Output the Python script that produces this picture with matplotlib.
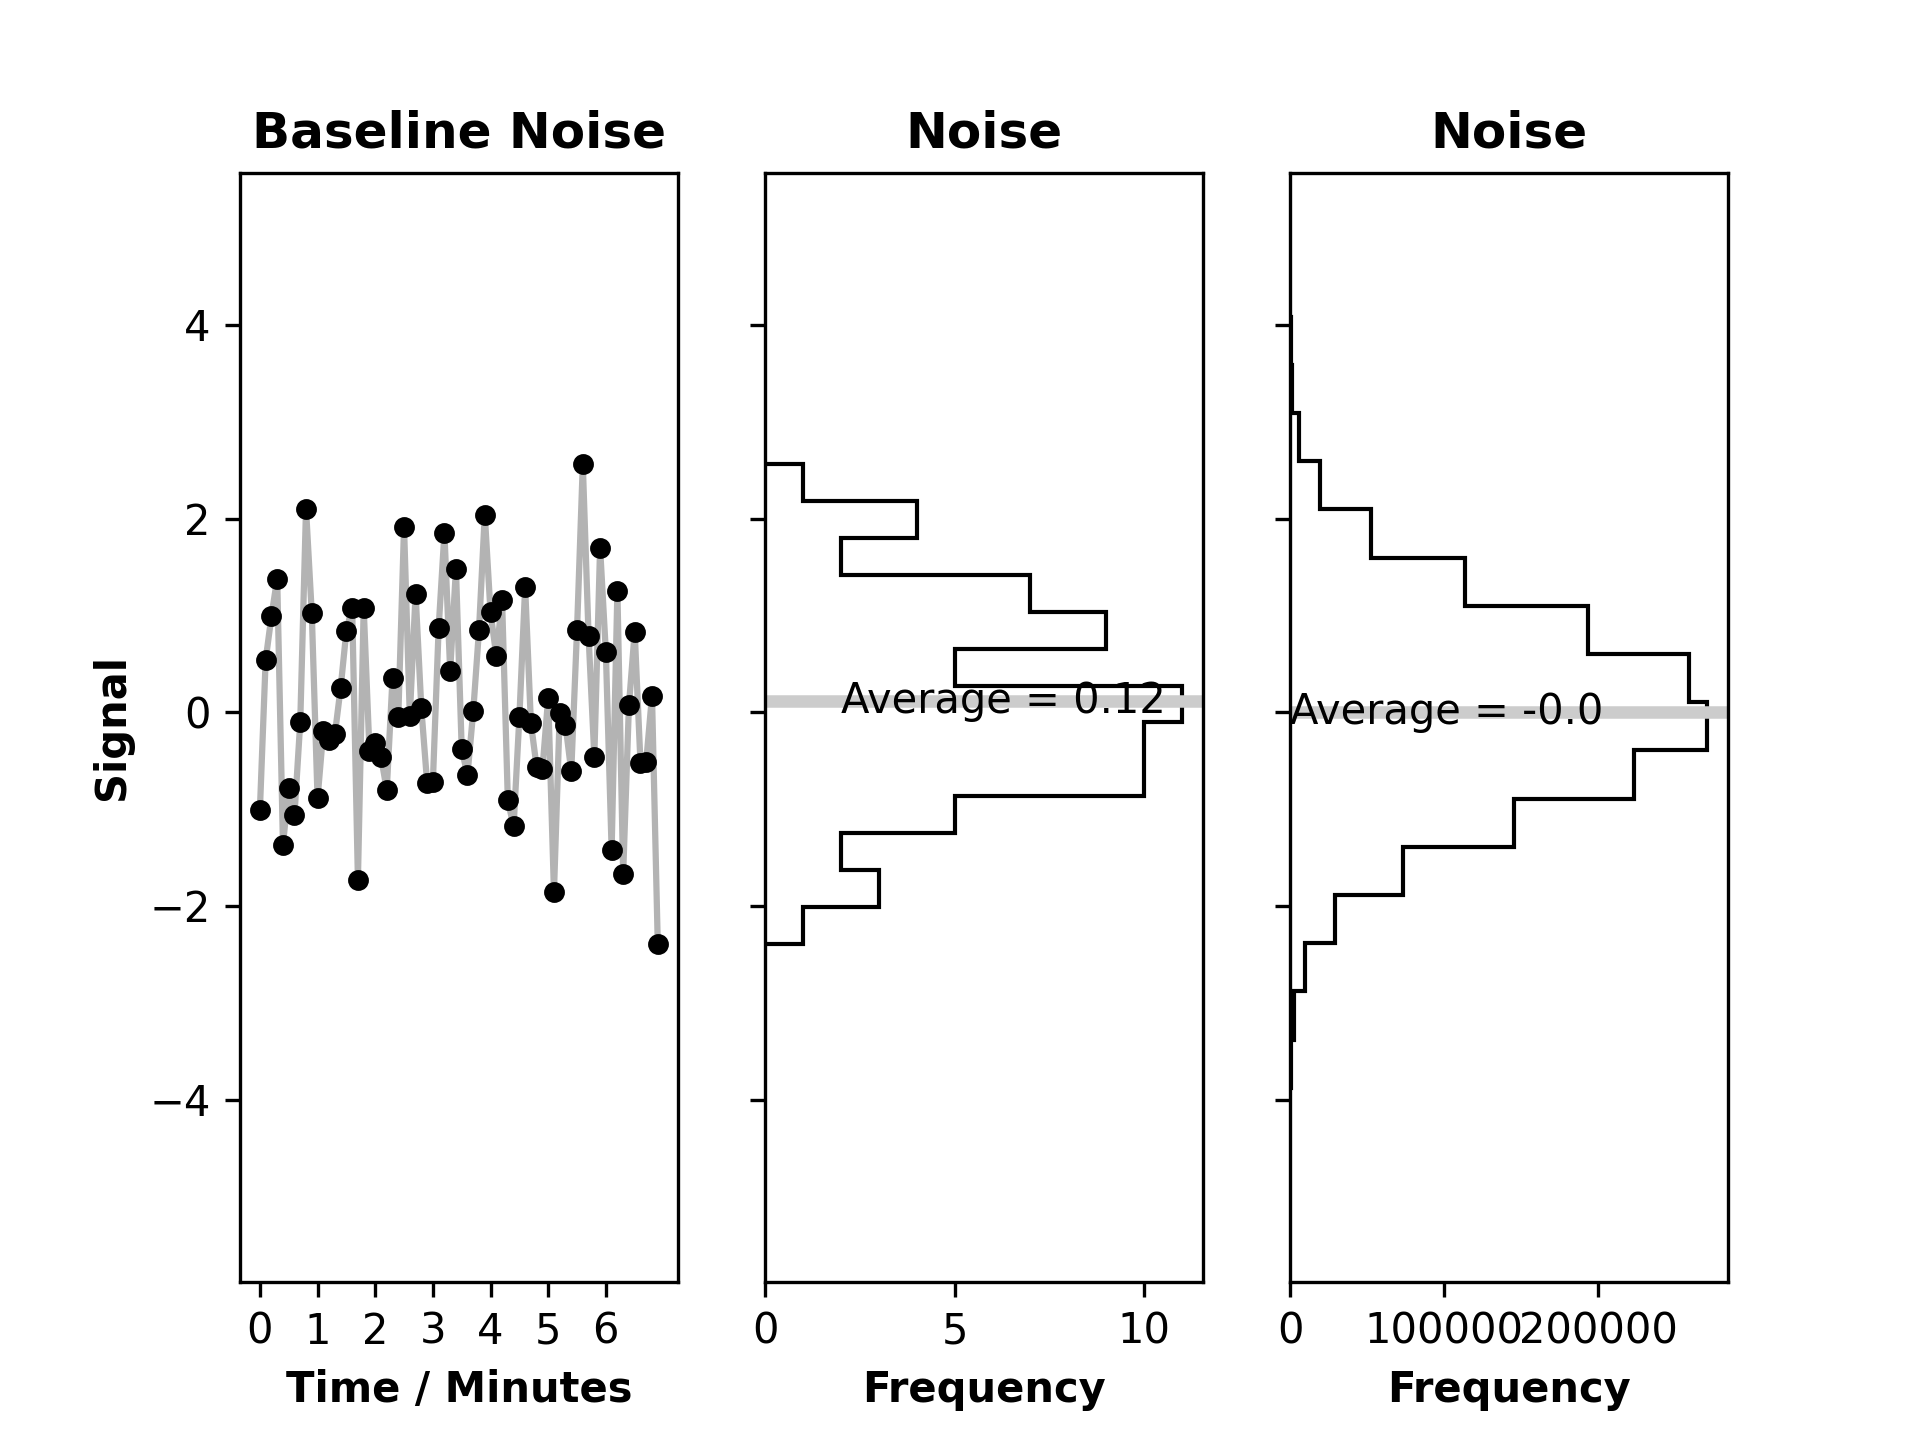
import matplotlib
matplotlib.use('Agg')
import matplotlib.pyplot as plt
import numpy as np

# baseline noise, one reading every 0.1 min
time_min = np.round(np.arange(70) * 0.1, 1)
signal = np.array([
    -1.01, 0.54, 0.99, 1.38, -1.37, -0.78, -1.06, -0.10, 2.10, 1.02,
    -0.89, -0.19, -0.29, -0.23, 0.25, 0.84, 1.08, -1.73, 1.08, -0.40,
    -0.32, -0.46, -0.80, 0.35, -0.05, 1.91, -0.04, 1.22, 0.04, -0.73,
    -0.72, 0.87, 1.85, 0.43, 1.48, -0.38, -0.65, 0.01, 0.85, 2.04,
    1.03, 0.58, 1.16, -0.91, -1.18, -0.05, 1.29, -0.11, -0.57, -0.59,
    0.15, -1.86, -0.01, -0.13, -0.61, 0.85, 2.56, 0.79, -0.46, 1.70,
    0.62, -1.42, 1.25, -1.67, 0.07, 0.83, -0.52, -0.51, 0.17, -2.39,
])

# large simulated noise sample, already binned
big_edges = np.array([-3.879, -3.381, -2.883, -2.386, -1.888, -1.390, -0.892, -0.394,
                      0.104, 0.601, 1.099, 1.597, 2.095, 2.593, 3.090, 3.588, 4.086])
big_counts = np.array([450, 2300, 9400, 29200, 73200, 145000, 222900, 270600,
                       258600, 193500, 113500, 52500, 19000, 5400, 1200, 200])
big_mean = -0.001

fig, axes = plt.subplots(1, 3, sharey=True, figsize=(6.4, 4.8), dpi=300)
ax1, ax2, ax3 = axes

ax1.plot(time_min, signal, color='0.7', lw=1.5, zorder=1)
ax1.plot(time_min, signal, 'o', color='k', ms=4, zorder=2)
ax1.set_title('Baseline Noise', fontweight='bold', fontsize=12)
ax1.set_xlabel('Time / Minutes', fontweight='bold')
ax1.set_ylabel('Signal', fontweight='bold')
ax1.set_xticks(range(7))

ax2.hist(signal, bins=13, orientation='horizontal', histtype='step', color='k')
avg = np.mean(signal)
ax2.axhline(avg, color='0.8', lw=3)
ax2.text(2, avg, f'Average = {round(avg, 2)}', va='center')
ax2.set_title('Noise', fontweight='bold', fontsize=12)
ax2.set_xlabel('Frequency', fontweight='bold')

centers = (big_edges[:-1] + big_edges[1:]) / 2
ax3.hist(centers, bins=big_edges, weights=big_counts, orientation='horizontal',
         histtype='step', color='k')
ax3.axhline(big_mean, color='0.8', lw=3)
ax3.text(2, big_mean, f'Average = {round(big_mean, 1)}', va='center')
ax3.set_title('Noise', fontweight='bold', fontsize=12)
ax3.set_xlabel('Frequency', fontweight='bold')

ax1.set_ylim(-5.88, 5.57)

fig.savefig('out.png', dpi=300)
